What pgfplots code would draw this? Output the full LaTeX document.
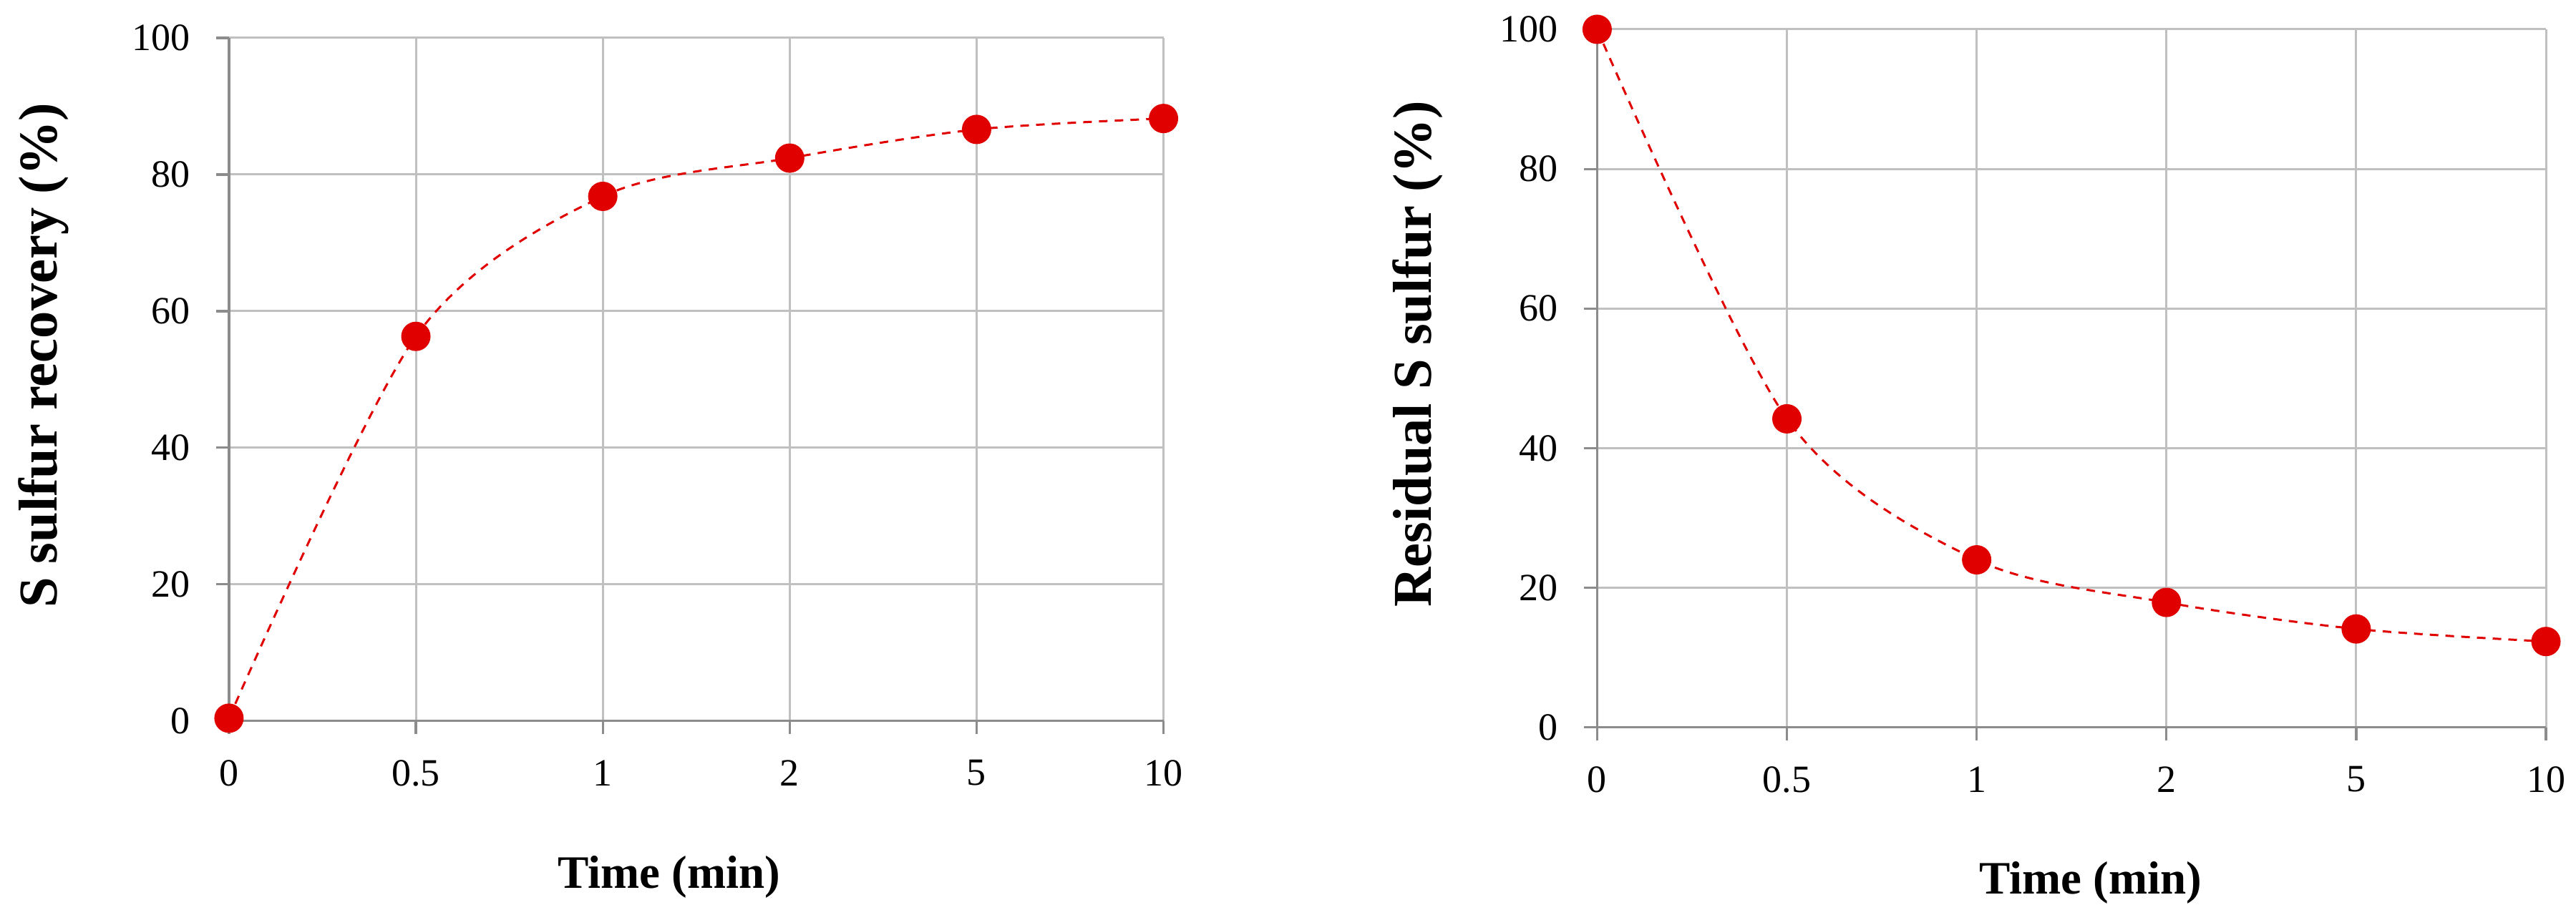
\documentclass[border=0pt]{standalone}
\usepackage{fontspec}
\setmainfont{Liberation Serif}
\usepackage{pgfplots}
\pgfplotsset{compat=1.18}
\definecolor{gridgray}{RGB}{192,192,192}
\definecolor{axgray}{RGB}{140,140,140}
\definecolor{ptred}{RGB}{224,0,0}
\pgfplotsset{
  myaxis/.style={
    scale only axis,
    xmin=0, xmax=5, ymin=0, ymax=100,
    xtick={0,1,2,3,4,5},
    xticklabels={0,0.5,1,2,5,10},
    ytick={0,20,40,60,80,100},
    tick pos=left,
    tick align=outside,
    major tick length=3.6pt,
    every tick/.style={draw=axgray, line width=0.65pt},
    grid=major,
    major grid style={draw=gridgray, line width=0.6pt},
    axis x line*=bottom,
    axis y line*=left,
    axis line style={-, draw=axgray, line width=0.65pt},
    /pgf/number format/assume math mode=true,
    ticklabel style={font=\fontsize{10.8}{13}\selectfont},
    xticklabel style={yshift=-3.8pt},
    yticklabel style={xshift=-3.8pt},
    xlabel style={font=\fontsize{13}{16}\selectfont\bfseries},
    ylabel style={font=\fontsize{15.3}{18}\selectfont\bfseries},
    clip=false,
  },
  myplot/.style={
    color=ptred, densely dashed, dash pattern=on 2.4pt off 2pt, line width=0.6pt, smooth,
    mark=*, mark size=3.8pt, mark options={solid, fill=ptred, draw=ptred}
  }
}
\begin{document}
\begin{tikzpicture}
\path[use as bounding box] (0,0) rectangle (720pt,254.4pt);
\begin{axis}[myaxis,
  at={(64pt,52.8pt)}, anchor=south west,
  width=261.2pt, height=191pt,
  xlabel={Time (min)},
  ylabel={S sulfur recovery (\%)},
  xlabel style={at={(axis description cs:0.471,0)}, anchor=base, yshift=-46.8pt},
  ylabel style={at={(axis description cs:-0.1838,0.535)}, anchor=base},
]
\addplot[myplot] coordinates {(0,0.4) (1,56.3) (2,76.8) (3,82.4) (4,86.6) (5,88.2)};
\end{axis}
\begin{axis}[myaxis,
  at={(446.4pt,51pt)}, anchor=south west,
  width=265.2pt, height=195.2pt,
  xlabel={Time (min)},
  ylabel={Residual S sulfur (\%)},
  xlabel style={at={(axis description cs:0.52,0)}, anchor=base, yshift=-46.6pt},
  ylabel style={at={(axis description cs:-0.175,0.535)}, anchor=base},
]
\addplot[myplot] coordinates {(0,100) (1,44.2) (2,24.0) (3,17.9) (4,14.1) (5,12.3)};
\end{axis}
\end{tikzpicture}
\end{document}
